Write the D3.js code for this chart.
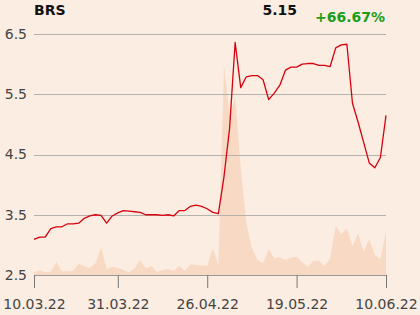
<!DOCTYPE html>
<html>
<head>
<meta charset="utf-8">
<script src="https://cdn.jsdelivr.net/npm/d3@7"></script>
<style>
  body { margin: 0; background: #fbede1; }
  svg { display: block; font-family: "DejaVu Sans", sans-serif; }
</style>
</head>
<body>
<script>
// Chart data
var symbol = 'BRS';
var prices = [3.09, 3.13, 3.13, 3.27, 3.30, 3.30, 3.35, 3.35, 3.36, 3.44,
  3.48, 3.50, 3.49, 3.36, 3.48, 3.53, 3.57, 3.56, 3.55, 3.54,
  3.50, 3.50, 3.50, 3.49, 3.50, 3.48, 3.57, 3.57, 3.64, 3.66,
  3.64, 3.60, 3.54, 3.52, 4.13, 4.93, 6.36, 5.61, 5.79, 5.81,
  5.81, 5.74, 5.41, 5.52, 5.65, 5.90, 5.95, 5.95, 6.00, 6.01,
  6.01, 5.98, 5.98, 5.96, 6.27, 6.32, 6.33, 5.35, 5.04, 4.70,
  4.36, 4.28, 4.45, 5.15];
var volumes = [2.7, 4.7, 2.7, 3.3, 13.3, 3.7, 3.7, 4.3, 11.3, 9,
  7, 11.7, 27.7, 6, 8.3, 7.3, 5, 2.7, 6.5, 15,
  6.7, 9, 3.3, 5, 6, 4, 9.3, 4, 10.7, 10,
  9.7, 9, 26.7, 10, 210, 160, 178, 108, 52, 27,
  15, 11.7, 26, 16.7, 18, 15, 17.5, 18.3, 13, 8.3,
  14, 14.3, 9, 16.7, 49, 41, 46.7, 29, 41.7, 23.3,
  35.7, 20, 15.7, 44.3];
var yTicks = [2.5, 3.5, 4.5, 5.5, 6.5];
var xTickIndex = [0, 15, 31, 47, 63];
var xTickLabels = ['10.03.22', '31.03.22', '26.04.22', '19.05.22', '10.06.22'];

var w = 420;
var h = 315;
var plotLeft = 34, plotRight = 386, plotTop = 34, plotBottom = 275;

var svg = d3.select('body')
  .append('svg')
  .attr('width', w)
  .attr('height', h);

var x = d3.scaleLinear().domain([0, prices.length - 1]).range([plotLeft, plotRight]);
var y = d3.scaleLinear().domain([2.5, 6.5]).range([plotBottom, plotTop]);
var yVol = d3.scaleLinear().domain([0, 210]).range([plotBottom, plotBottom - 210]);

// Volume area
var area = d3.area()
  .x(function(d, i) { return x(i); })
  .y0(plotBottom)
  .y1(function(d) { return yVol(d); });

svg.append('path')
  .datum(volumes)
  .attr('d', area)
  .attr('fill', '#f8dac4');

// Grid lines
svg.selectAll('line.grid')
  .data(yTicks.slice(1))
  .enter()
  .append('line')
  .attr('class', 'grid')
  .attr('x1', plotLeft)
  .attr('x2', plotRight)
  .attr('y1', function(d) { return Math.round(y(d)) + 0.5; })
  .attr('y2', function(d) { return Math.round(y(d)) + 0.5; })
  .attr('stroke', '#b5b1ad')
  .attr('stroke-width', 1);

// Y labels
svg.selectAll('text.ylab')
  .data(yTicks)
  .enter()
  .append('text')
  .attr('class', 'ylab')
  .text(function(d) { return d3.format('.1f')(d); })
  .attr('x', 27)
  .attr('y', function(d) { return y(d); })
  .attr('dy', '0.35em')
  .attr('text-anchor', 'end')
  .attr('font-size', '14px')
  .attr('fill', '#444');

// X axis
var xAxis = d3.axisBottom(x)
  .tickValues(xTickIndex)
  .tickFormat(function(d, i) { return xTickLabels[i]; })
  .tickSize(13)
  .tickSizeOuter(0)
  .tickPadding(11);

var gx = svg.append('g')
  .attr('transform', 'translate(0,' + plotBottom + ')')
  .call(xAxis);
gx.select('.domain').attr('stroke', '#999');
gx.selectAll('.tick line').attr('stroke', '#777');
gx.selectAll('.tick text')
  .attr('font-size', '14px')
  .attr('font-family', '"DejaVu Sans", sans-serif')
  .attr('fill', '#444');

// Price line
var line = d3.line()
  .x(function(d, i) { return x(i); })
  .y(function(d) { return y(d); });

svg.append('path')
  .datum(prices)
  .attr('d', line)
  .attr('fill', 'none')
  .attr('stroke', '#d6000f')
  .attr('stroke-width', 1.3)
  .attr('stroke-linejoin', 'round');

// Header
var last = prices[prices.length - 1];
var change = (last / prices[0] - 1) * 100;

svg.append('text')
  .text(symbol)
  .attr('x', 34)
  .attr('y', 15)
  .attr('font-size', '14px')
  .attr('font-weight', 'bold')
  .attr('fill', '#111');

svg.append('text')
  .text(d3.format('.2f')(last))
  .attr('x', 297)
  .attr('y', 15)
  .attr('text-anchor', 'end')
  .attr('font-size', '14px')
  .attr('font-weight', 'bold')
  .attr('fill', '#111');

svg.append('text')
  .text((change >= 0 ? '+' : '') + d3.format('.2f')(change) + '%')
  .attr('x', 385)
  .attr('y', 21.5)
  .attr('text-anchor', 'end')
  .attr('font-size', '14px')
  .attr('font-weight', 'bold')
  .attr('fill', '#1a9e1a');
</script>
</body>
</html>
